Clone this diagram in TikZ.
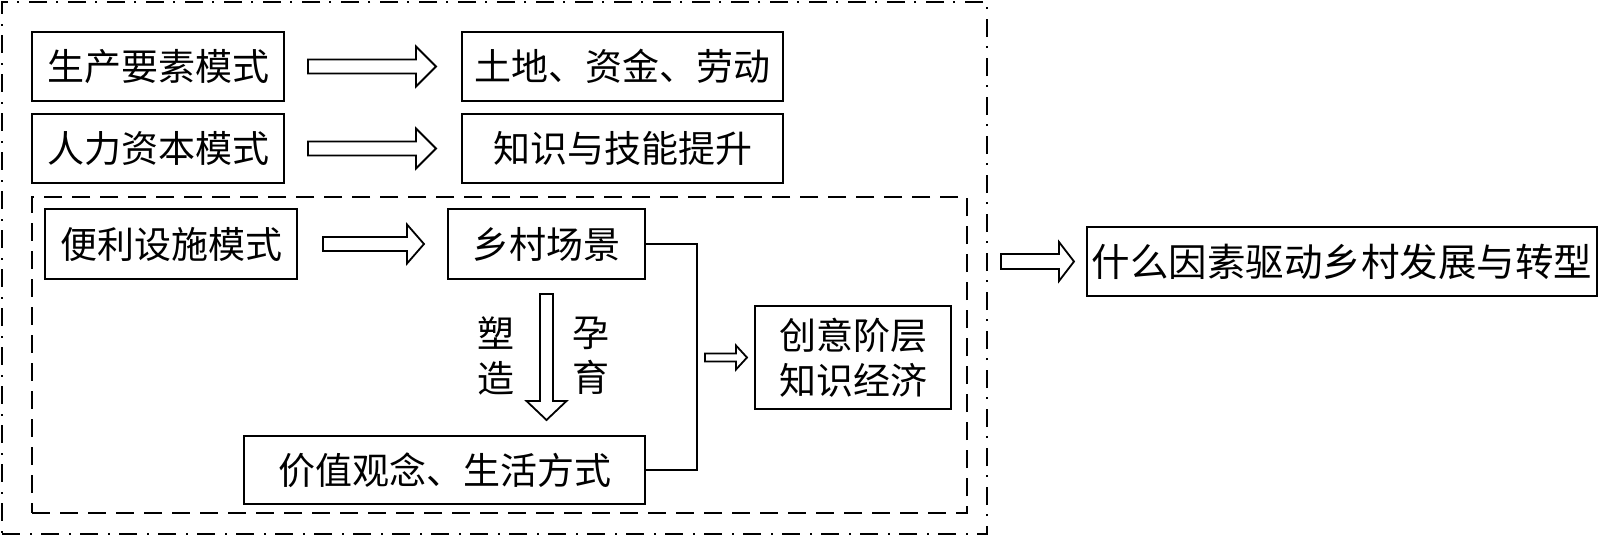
\documentclass[tikz,border=0pt]{standalone}
\usepackage{fontspec}
\newfontfamily\cjk{Noto Sans CJK SC}
\usetikzlibrary{calc, positioning}

\tikzset{
  box/.style={draw, line width=2pt, inner sep=0pt, align=center,
    font=\cjk\fontsize{37}{45}\selectfont},
  lbl/.style={inner sep=0pt, align=center, font=\cjk\fontsize{37}{45}\selectfont},
  link/.style={draw, line width=2pt},
  dashframe/.style={draw, line width=2pt, dash pattern=on 18pt off 10pt},
  dotframe/.style={draw, line width=2pt, dash pattern=on 18pt off 10pt on 2pt off 9pt},
  % block arrow: {shaft half width}{head half width}{head length}
  bigarrow/.style n args={3}{draw, line width=1.8pt, fill=white,
    to path={let \p1=(\tikztostart), \p2=(\tikztotarget),
      \n1={veclen(\x2-\x1,\y2-\y1)}, \n2={(\x2-\x1)/\n1}, \n3={(\y2-\y1)/\n1} in
      ({\x1-#1*\n3},{\y1+#1*\n2})
      -- ({\x2-#3*\n2-#1*\n3},{\y2-#3*\n3+#1*\n2})
      -- ({\x2-#3*\n2-#2*\n3},{\y2-#3*\n3+#2*\n2})
      -- (\p2)
      -- ({\x2-#3*\n2+#2*\n3},{\y2-#3*\n3-#2*\n2})
      -- ({\x2-#3*\n2+#1*\n3},{\y2-#3*\n3-#1*\n2})
      -- ({\x1+#1*\n3},{\y1-#1*\n2}) -- cycle}},
}

\begin{document}
\begin{tikzpicture}[x=1pt, y=-1pt]
  \useasboundingbox (0,0) rectangle (1600,536);

  % frames
  \node[dotframe, minimum width=985pt, minimum height=532pt] (frame) at (494.5,268) {};
  \node[dashframe, minimum width=935pt, minimum height=316pt] (inner) at (499.5,355) {};

  % upper rows
  \node[box, minimum width=252pt, minimum height=69pt] (scys) at (158,66.5) {生产要素模式};
  \node[box, minimum width=321pt, minimum height=69pt] (tdzj) at (622.5,66.5) {土地、资金、劳动};
  \node[box, minimum width=252pt, minimum height=69pt] (rlzb) at (158,148.5) {人力资本模式};
  \node[box, minimum width=321pt, minimum height=69pt] (zsjn) at (622.5,148.5) {知识与技能提升};

  % inner part
  \node[box, minimum width=252pt, minimum height=70pt] (blss) at (171,244) {便利设施模式};
  \node[box, minimum width=197pt, minimum height=70pt] (xccj) at (546.5,244) {乡村场景};
  \node[box, minimum width=401pt, minimum height=68pt] (jzgn) at (444.5,470) {价值观念、生活方式};
  \node[box, minimum width=196pt, minimum height=103pt] (cyjc) at (853,357.5) {创意阶层\\知识经济};
  \node[lbl] (suzao) at (496,355.5) {塑\\造};
  \node[lbl] (yunyu) at (591,355.5) {孕\\育};

  % result
  \node[box, minimum width=510pt, minimum height=69pt,
    font=\cjk\fontsize{38.5}{45}\selectfont] (qdfz) at (1342,261.5) {什么因素驱动乡村发展与转型};

  % connectors
  \coordinate (join) at (697,357.5);
  \draw[link] (xccj.east) -| (join) |- (jzgn.east);

  \draw[bigarrow={7}{20}{20}] ($(scys.east)+(23,0)$) to ($(tdzj.west)+(-25,0)$);
  \draw[bigarrow={7}{20}{20}] ($(rlzb.east)+(23,0)$) to ($(zsjn.west)+(-25,0)$);
  \draw[bigarrow={7}{19.5}{17}] ($(blss.east)+(25,0)$) to ($(xccj.west)+(-23,0)$);
  \draw[bigarrow={6.5}{20}{19}] ($(xccj.south)+(0,14)$) to ($(xccj.south |- jzgn.north)+(0,-15)$);
  \draw[bigarrow={4}{12}{11}] ($(join)+(8,0)$) to ($(cyjc.west)+(-7,0)$);
  \draw[bigarrow={7.5}{19.5}{15}] ($(frame.east |- qdfz.west)+(13,0)$) to ($(qdfz.west)+(-12,0)$);
\end{tikzpicture}
\end{document}
